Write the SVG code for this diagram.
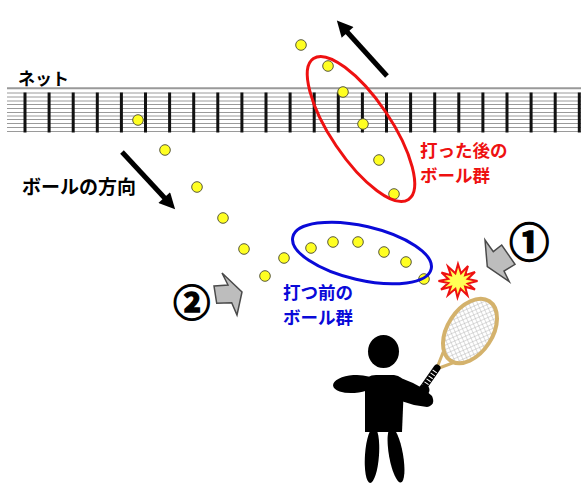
<svg xmlns="http://www.w3.org/2000/svg" width="581" height="483" viewBox="0 0 581 483">
  <style>
    .lbl { font-family: "Noto Sans CJK JP", "Noto Sans", sans-serif; font-weight: bold; }
    .netline { stroke: #9a9a9a; stroke-width: 1; }
    .bar { stroke: #111; stroke-width: 3; }
    .ball { fill: #ffff22; stroke: #5a5a3a; stroke-width: 1; }
    .hint { fill: #bdbdbd; stroke: #4a4a4a; stroke-width: 1.5; stroke-linejoin: miter; }
    .num { font-family: "Noto Sans CJK JP", sans-serif; font-weight: bold; fill: #000; stroke: #000; stroke-width: 1.4; text-anchor: middle; }
    .dir { stroke: #000; stroke-width: 5; fill: none; marker-end: url(#head); }
  </style>
  <defs>
    <marker id="head" viewBox="0 0 10 10" markerUnits="userSpaceOnUse" markerWidth="17" markerHeight="16" refX="4" refY="5" orient="auto">
      <path d="M0,0 L10,5 L0,10 z" fill="#000"/>
    </marker>
    <pattern id="mesh" width="4" height="4" patternUnits="userSpaceOnUse" patternTransform="rotate(33)">
      <rect width="4" height="4" fill="#fff"/>
      <path d="M0,0 H4 M0,0 V4" stroke="#a8a8a8" stroke-width="0.8"/>
    </pattern>
  </defs>

  <rect width="581" height="483" fill="#fff"/>

  <!-- net -->
  <g id="net">
    <line x1="7" y1="88.3" x2="581" y2="88.3" stroke="#999" stroke-width="2"/>
    <g class="netline">
      <line x1="7" y1="93" x2="581" y2="93"/>
      <line x1="7" y1="97" x2="581" y2="97"/>
      <line x1="7" y1="101" x2="581" y2="101"/>
      <line x1="7" y1="104.5" x2="581" y2="104.5"/>
      <line x1="7" y1="108.5" x2="581" y2="108.5"/>
      <line x1="7" y1="112.5" x2="581" y2="112.5"/>
      <line x1="7" y1="116" x2="581" y2="116"/>
      <line x1="7" y1="119.5" x2="581" y2="119.5"/>
      <line x1="7" y1="123.5" x2="581" y2="123.5"/>
      <line x1="7" y1="127.5" x2="581" y2="127.5"/>
      <line x1="7" y1="131.5" x2="581" y2="131.5"/>
    </g>
    <g class="bar">
      <line x1="25" y1="92.5" x2="25" y2="132.5"/>
      <line x1="49.1" y1="92.5" x2="49.1" y2="132.5"/>
      <line x1="73.2" y1="92.5" x2="73.2" y2="132.5"/>
      <line x1="97.3" y1="92.5" x2="97.3" y2="132.5"/>
      <line x1="121.4" y1="92.5" x2="121.4" y2="132.5"/>
      <line x1="145.5" y1="92.5" x2="145.5" y2="132.5"/>
      <line x1="169.6" y1="92.5" x2="169.6" y2="132.5"/>
      <line x1="193.7" y1="92.5" x2="193.7" y2="132.5"/>
      <line x1="217.8" y1="92.5" x2="217.8" y2="132.5"/>
      <line x1="241.9" y1="92.5" x2="241.9" y2="132.5"/>
      <line x1="266" y1="92.5" x2="266" y2="132.5"/>
      <line x1="290.1" y1="92.5" x2="290.1" y2="132.5"/>
      <line x1="314.2" y1="92.5" x2="314.2" y2="132.5"/>
      <line x1="338.3" y1="92.5" x2="338.3" y2="132.5"/>
      <line x1="362.4" y1="92.5" x2="362.4" y2="132.5"/>
      <line x1="386.5" y1="92.5" x2="386.5" y2="132.5"/>
      <line x1="410.6" y1="92.5" x2="410.6" y2="132.5"/>
      <line x1="434.7" y1="92.5" x2="434.7" y2="132.5"/>
      <line x1="458.8" y1="92.5" x2="458.8" y2="132.5"/>
      <line x1="482.9" y1="92.5" x2="482.9" y2="132.5"/>
      <line x1="507" y1="92.5" x2="507" y2="132.5"/>
      <line x1="531.1" y1="92.5" x2="531.1" y2="132.5"/>
      <line x1="555.2" y1="92.5" x2="555.2" y2="132.5"/>
      <line x1="579.3" y1="92.5" x2="579.3" y2="132.5"/>
    </g>
    <text class="lbl" x="18" y="85" font-size="17" fill="#000">ネット</text>
  </g>

  <!-- balls -->
  <g id="balls">
    <circle class="ball" cx="301" cy="45" r="5.3"/>
    <circle class="ball" cx="328" cy="66" r="5.3"/>
    <circle class="ball" cx="343" cy="92" r="5.3"/>
    <circle class="ball" cx="363" cy="124" r="5.3"/>
    <circle class="ball" cx="379" cy="160" r="5.3"/>
    <circle class="ball" cx="394" cy="194" r="5.3"/>
    <circle class="ball" cx="138" cy="120" r="5.3"/>
    <circle class="ball" cx="165" cy="150" r="5.3"/>
    <circle class="ball" cx="197" cy="187" r="5.3"/>
    <circle class="ball" cx="223" cy="218" r="5.3"/>
    <circle class="ball" cx="244" cy="249" r="5.3"/>
    <circle class="ball" cx="265" cy="276" r="5.3"/>
    <circle class="ball" cx="284" cy="258" r="5.3"/>
    <circle class="ball" cx="311" cy="248" r="5.3"/>
    <circle class="ball" cx="333" cy="242" r="5.3"/>
    <circle class="ball" cx="358" cy="242" r="5.3"/>
    <circle class="ball" cx="384" cy="252" r="5.3"/>
    <circle class="ball" cx="406" cy="262" r="5.3"/>
    <circle class="ball" cx="424" cy="279" r="5.3"/>
  </g>

  <!-- ball groups -->
  <g id="group-after">
    <ellipse cx="361" cy="129" rx="85" ry="30" transform="rotate(56 361 129)" fill="none" stroke="#ee1111" stroke-width="3"/>
    <text class="lbl" x="420" y="157" font-size="17.5" fill="#ee1111">打った後の</text>
    <text class="lbl" x="420" y="182" font-size="17.5" fill="#ee1111">ボール群</text>
  </g>
  <g id="group-before">
    <ellipse cx="362" cy="253" rx="71" ry="27" transform="rotate(13 362 253)" fill="none" stroke="#0a0ad8" stroke-width="3"/>
    <text class="lbl" x="283" y="299" font-size="17.5" fill="#0a0ad8">打つ前の</text>
    <text class="lbl" x="283" y="324" font-size="17.5" fill="#0a0ad8">ボール群</text>
  </g>

  <!-- direction arrows -->
  <g id="connectors">
    <line class="dir" x1="387" y1="76" x2="343.3" y2="27.7"/>
    <line class="dir" x1="122" y1="152" x2="168.6" y2="202.3"/>
  </g>
  <text class="lbl" x="22" y="194" font-size="19" fill="#000">ボールの方向</text>

  <!-- numbered hints -->
  <g id="hint-1">
    <polygon class="hint" points="485,240 493.3,251.7 501.7,245 515,264.3 504,271 509.3,281.7 487.3,266.7"/>
    <text class="num" x="529.3" y="256.5" font-size="40">①</text>
  </g>
  <g id="hint-2">
    <polygon class="hint" points="214,286 228,285 222,273 242,292 237,315 231.7,302.7 216.7,303.3"/>
    <text class="num" x="191.7" y="317.4" font-size="37">②</text>
  </g>

  <!-- impact burst -->
  <g id="impact">
    <polygon points="458,264 461,273.3 468,266 465.1,275.3 475,272 467.7,278.9 477.5,281 467.7,283.6 475,289.5 465.1,286.7 467.5,295.5 460.6,288.7 457.5,297.5 455.4,288.7 448,295 450.9,286.7 441,289.5 448.3,283.1 438.5,281 448.3,278.9 441.5,272.5 450.9,275.3 448,266.5 455.4,273.3" fill="#ffff55" stroke="#ee1111" stroke-width="2" stroke-linejoin="miter"/>
  </g>

  <!-- player with racket -->
  <g id="player">
    <g id="racket">
      <path d="M443.3,351.7 L436.5,369 L465,358.3" fill="none" stroke="#d4b26c" stroke-width="3" stroke-linejoin="round"/>
      <ellipse cx="470" cy="331" rx="35.5" ry="22.5" transform="rotate(-57 470 331)" fill="url(#mesh)" stroke="#d4b26c" stroke-width="4"/>
      <line x1="437" y1="368" x2="421" y2="391" stroke="#000" stroke-width="7" stroke-linecap="round"/>
      <line x1="435" y1="371" x2="424" y2="387" stroke="#fff" stroke-width="5" stroke-dasharray="1 2.6"/>
    </g>
    <ellipse cx="383.5" cy="351.5" rx="15.5" ry="16.5" fill="#000"/>
    <path d="M365,383 Q366,375 376,375 L394,375 Q403,376 404,384 L402,432 L365,432 Z" fill="#000"/>
    <ellipse cx="354" cy="384" rx="21" ry="9" transform="rotate(-4 354 384)" fill="#000"/>
    <path d="M396,376 L413,383 L424,389 L432,396 Q436,405 427,407 L414,405 L398,400 Z" fill="#000"/>
    <circle cx="424" cy="390" r="5.5" fill="#000"/>
    <ellipse cx="372" cy="455" rx="7" ry="28" transform="rotate(4 372 455)" fill="#000"/>
    <ellipse cx="396" cy="455" rx="7" ry="28" transform="rotate(-10 396 455)" fill="#000"/>
  </g>
</svg>
